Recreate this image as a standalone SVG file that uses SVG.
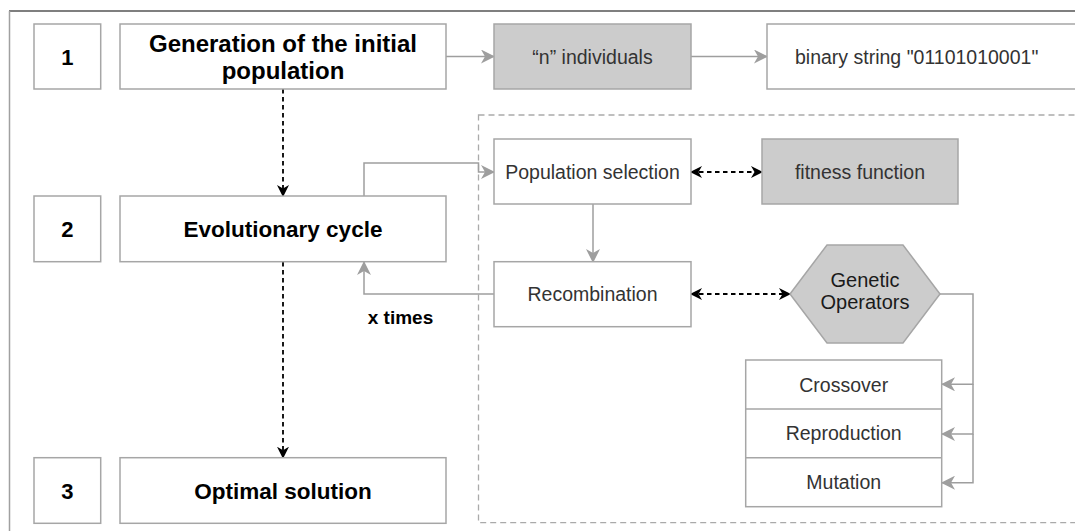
<svg xmlns="http://www.w3.org/2000/svg" width="1075" height="531" viewBox="0 0 1075 531">
  <style>
    .box { fill: #ffffff; stroke: #a6a6a6; stroke-width: 1.5; }
    .gbox { fill: #cccccc; stroke: #a6a6a6; stroke-width: 1.5; }
    .t { font-family: "Liberation Sans", Arial, sans-serif; font-size: 19.5px; fill: #333333; text-anchor: middle; dominant-baseline: central; }
    .b { font-family: "Liberation Sans", Arial, sans-serif; font-weight: bold; fill: #000000; text-anchor: middle; }
    .gl { fill: none; stroke: #9e9e9e; stroke-width: 1.5; }
    .dl { fill: none; stroke: #000000; stroke-width: 1.8; stroke-dasharray: 4.5 3.5; }
  </style>
  <defs>
    <marker id="ga" viewBox="0 0 14 14" refX="13" refY="7" markerWidth="14" markerHeight="14" markerUnits="userSpaceOnUse" orient="auto-start-reverse">
      <path d="M0,0 L14,7 L0,14 L4,7 Z" fill="#9e9e9e"/>
    </marker>
    <marker id="ba" viewBox="0 0 12 12" refX="11" refY="6" markerWidth="12" markerHeight="12" markerUnits="userSpaceOnUse" orient="auto-start-reverse">
      <path d="M0,0 L12,6 L0,12 L3.5,6 Z" fill="#000000"/>
    </marker>
  </defs>

  <rect width="1075" height="531" fill="#ffffff"/>

  <!-- frame -->
  <g id="frame">
    <line x1="9" y1="11" x2="1080" y2="11" stroke="#555555" stroke-width="1.5"/>
    <line x1="9.5" y1="11" x2="9.5" y2="540" stroke="#a0a0a0" stroke-width="1.5"/>
  </g>

  <!-- dashed container -->
  <g id="cycle-container">
    <rect x="478.5" y="115" width="700" height="407.7" fill="none" stroke="#aaaaaa" stroke-width="1.3" stroke-dasharray="6 4"/>
  </g>

  <!-- connectors -->
  <g id="connectors">
    <path class="gl" d="M446,56.5 H494" marker-end="url(#ga)"/>
    <path class="gl" d="M691,56.5 H767" marker-end="url(#ga)"/>
    <path class="dl" d="M283,89 V196" marker-end="url(#ba)"/>
    <path class="dl" d="M283,262 V457.7" marker-end="url(#ba)"/>
    <path class="gl" d="M364,196 V163 H478.5 V172 H494" marker-end="url(#ga)"/>
    <path class="gl" d="M593,204 V262" marker-end="url(#ga)"/>
    <path class="gl" d="M494,294 H364 V262" marker-end="url(#ga)"/>
    <path class="dl" d="M691,172 H762" marker-start="url(#ba)" marker-end="url(#ba)"/>
    <path class="dl" d="M691,294 H790" marker-start="url(#ba)" marker-end="url(#ba)"/>
    <path class="gl" d="M940,294 H973 V384.3 H942" marker-end="url(#ga)"/>
    <path class="gl" d="M973,384.3 V434 H942" marker-end="url(#ga)"/>
    <path class="gl" d="M973,434 V482.7 H942" marker-end="url(#ga)"/>
    <text class="b" x="400.5" y="324" font-size="19">x times</text>
  </g>

  <!-- step numbers -->
  <g id="n1">
    <rect class="box" x="34" y="24" width="66.7" height="65"/>
    <text class="b" x="67.3" y="64.5" font-size="22">1</text>
  </g>
  <g id="n2">
    <rect class="box" x="34" y="196" width="66.7" height="65.7"/>
    <text class="b" x="67.3" y="236.8" font-size="22">2</text>
  </g>
  <g id="n3">
    <rect class="box" x="34" y="457.7" width="66.7" height="65.6"/>
    <text class="b" x="67.3" y="498.5" font-size="22">3</text>
  </g>

  <!-- main steps -->
  <g id="generation">
    <rect class="box" x="120" y="24" width="326" height="65"/>
    <text class="b" x="283" y="51.5" font-size="24">Generation of the initial</text>
    <text class="b" x="283" y="79" font-size="24">population</text>
  </g>
  <g id="evolutionary">
    <rect class="box" x="120" y="196" width="326" height="65.7"/>
    <text class="b" x="283" y="236.8" font-size="22.5">Evolutionary cycle</text>
  </g>
  <g id="optimal">
    <rect class="box" x="120" y="457.7" width="326" height="65.6"/>
    <text class="b" x="283" y="498.5" font-size="22.5">Optimal solution</text>
  </g>

  <!-- top row -->
  <g id="individuals">
    <rect class="gbox" x="494" y="24" width="197" height="65"/>
    <text class="t" x="592.5" y="56.5">“n” individuals</text>
  </g>
  <g id="binary">
    <rect class="box" x="767" y="24" width="330" height="65"/>
    <text class="t" x="795" y="56.5" style="text-anchor:start">binary string "01101010001"</text>
  </g>

  <!-- cycle contents -->
  <g id="selection">
    <rect class="box" x="494" y="139" width="197" height="65"/>
    <text class="t" x="592.5" y="171.5">Population selection</text>
  </g>
  <g id="fitness">
    <rect class="gbox" x="762" y="139" width="196" height="65"/>
    <text class="t" x="860" y="171.5">fitness function</text>
  </g>
  <g id="recombination">
    <rect class="box" x="494" y="261.7" width="197" height="65"/>
    <text class="t" x="592.5" y="294">Recombination</text>
  </g>
  <g id="genetic-operators">
    <polygon points="790,294 827,245 903,245 940,294 903,343 827,343" fill="#cccccc" stroke="#a6a6a6" stroke-width="1.5"/>
    <text x="865" y="286.5" font-family="Liberation Sans, Arial, sans-serif" font-size="20" fill="#1a1a1a" text-anchor="middle">Genetic</text>
    <text x="865" y="309" font-family="Liberation Sans, Arial, sans-serif" font-size="20" fill="#1a1a1a" text-anchor="middle">Operators</text>
  </g>
  <g id="operators-list">
    <rect class="box" x="745.7" y="360" width="196" height="146.7"/>
    <line x1="745.7" y1="409" x2="941.7" y2="409" stroke="#a6a6a6" stroke-width="1.5"/>
    <line x1="745.7" y1="457.7" x2="941.7" y2="457.7" stroke="#a6a6a6" stroke-width="1.5"/>
    <text class="t" x="843.7" y="384.5">Crossover</text>
    <text class="t" x="843.7" y="433.3">Reproduction</text>
    <text class="t" x="843.7" y="482.2">Mutation</text>
  </g>
</svg>
